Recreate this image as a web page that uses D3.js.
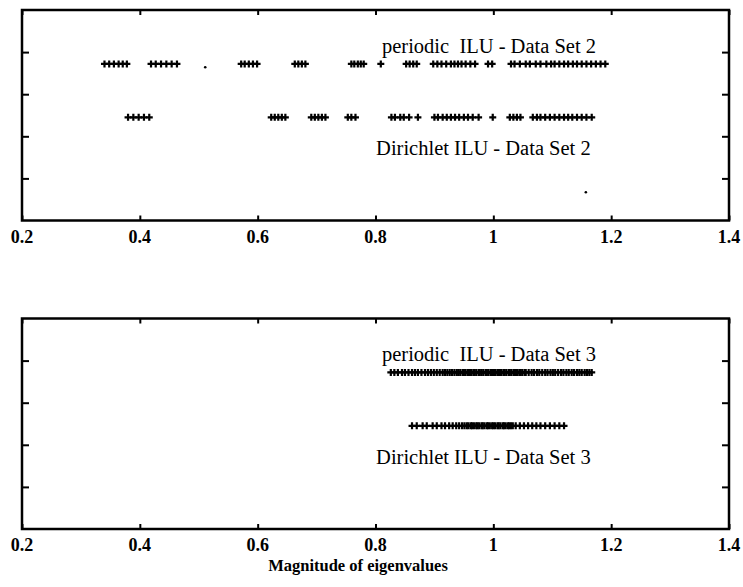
<!DOCTYPE html>
<html>
<head>
<meta charset="utf-8">
<script src="https://cdn.jsdelivr.net/npm/d3@7"></script>
<style>
  body { margin: 0; background: #fff; }
  svg { display: block; }
</style>
</head>
<body>
<div id="chart"></div>
<script>
//axis ticks
const xTicks = [0.2, 0.4, 0.6, 0.8, 1.0, 1.2, 1.4];
const xTickLabels = ['0.2', '0.4', '0.6', '0.8', '1', '1.2', '1.4'];
const yTicks = [1, 2, 3, 4];

//eigenvalue magnitudes
const periodicSet2 = [
  0.340, 0.348, 0.356, 0.364, 0.371, 0.378,
  0.419, 0.427, 0.436, 0.445, 0.454, 0.463,
  0.572, 0.578, 0.585, 0.592, 0.599,
  0.663, 0.669, 0.675, 0.681,
  0.759, 0.764, 0.770, 0.775, 0.780,
  0.809,
  0.852, 0.858, 0.864, 0.870,
  0.898, 0.905, 0.912, 0.920, 0.928, 0.934, 0.940, 0.946, 0.953, 0.961, 0.969,
  0.991, 0.998,
  1.030, 1.036, 1.045, 1.055, 1.062, 1.072, 1.080, 1.090, 1.098, 1.104, 1.112,
  1.120, 1.127, 1.135, 1.142, 1.150, 1.158, 1.166, 1.174, 1.182, 1.190
];
const dirichletSet2 = [
  0.380, 0.389, 0.398, 0.407, 0.416,
  0.623, 0.629, 0.635, 0.641, 0.647,
  0.691, 0.697, 0.703, 0.709, 0.715,
  0.753, 0.759, 0.766,
  0.827, 0.833, 0.842, 0.848, 0.857,
  0.872,
  0.900, 0.906, 0.914, 0.921, 0.928, 0.935, 0.942, 0.950, 0.957, 0.965, 0.975,
  0.999,
  1.028, 1.034, 1.040, 1.046,
  1.067, 1.074, 1.080, 1.088, 1.096, 1.104, 1.112, 1.120, 1.127, 1.134, 1.142,
  1.150, 1.158, 1.167
];
const periodicSet3 = [
  0.826, 0.832, 0.838, 0.845, 0.850, 0.856, 0.862, 0.867, 0.872, 0.878, 0.884,
  0.889, 0.894, 0.899, 0.904, 0.909, 0.914, 0.918, 0.922, 0.926, 0.930, 0.934,
  0.938, 0.941, 0.944, 0.948, 0.950, 0.953, 0.957, 0.959, 0.962, 0.966, 0.968,
  0.971, 0.975, 0.977, 0.980, 0.983, 0.987, 0.989, 0.992, 0.996, 0.998, 1.001,
  1.004, 1.008, 1.010, 1.013, 1.017, 1.019, 1.022, 1.026, 1.028, 1.031, 1.035,
  1.037, 1.040, 1.044, 1.046, 1.049, 1.053, 1.055,
  1.060, 1.065, 1.069, 1.074, 1.078, 1.083, 1.088, 1.092, 1.097, 1.101, 1.105,
  1.110, 1.115, 1.119, 1.124, 1.128, 1.133, 1.137, 1.142, 1.146, 1.150, 1.155,
  1.159, 1.163, 1.167
];
const dirichletSet3 = [
  0.862, 0.870, 0.880, 0.887, 0.897, 0.904, 0.912, 0.918, 0.925, 0.931, 0.937,
  0.942, 0.947, 0.951,
  0.955, 0.958, 0.962, 0.964, 0.967, 0.971, 0.973, 0.976, 0.980, 0.982, 0.985,
  0.989, 0.991, 0.994, 0.998, 1.000, 1.003, 1.007, 1.009, 1.012, 1.016, 1.018,
  1.021, 1.025, 1.027, 1.030, 1.033,
  1.038, 1.045, 1.052, 1.059, 1.066, 1.073, 1.080, 1.088, 1.096, 1.104, 1.112,
  1.120
];

//stray dots that are in the picture
const specksSet2 = [{x: 0.511, y: 3.64}, {x: 1.157, y: 0.67}];

const rowLabelsSet2 = ['periodic  ILU - Data Set 2', 'Dirichlet ILU - Data Set 2'];
const rowLabelsSet3 = ['periodic  ILU - Data Set 3', 'Dirichlet ILU - Data Set 3'];
const xTitle = 'Magnitude of eigenvalues';

const width = 743, height = 587;
const plotH = 210.5;
const serif = '"Liberation Serif", "Times New Roman", serif';

const svg = d3.select('#chart').append('svg')
  .attr('width', width)
  .attr('height', height);

const x = d3.scaleLinear().domain([0.2, 1.4]).range([22, 729]);
const y = d3.scaleLinear().domain([0, 5]).range([plotH, 0]);

const plus = 'M-3.5,0H3.5M0,-3.5V3.5';

function rowLabel(g, text, xv, yv) {
  g.append('text')
    .attr('x', x(xv)).attr('y', y(yv))
    .style('font-family', serif)
    .style('font-size', '20.5px')
    .style('white-space', 'pre')
    .text(text);
}

function drawPanel(top, periodic, dirichlet, labels, specks) {
  var g = svg.append('g').attr('transform', 'translate(0,' + top + ')');

  //ticks pointing inward on all four sides
  var axBottom = d3.axisBottom(x).tickValues(xTicks).tickSize(-5).tickFormat('');
  var axTop = d3.axisTop(x).tickValues(xTicks).tickSize(-5).tickFormat('');
  var axLeft = d3.axisLeft(y).tickValues(yTicks).tickSize(-7).tickFormat('');
  var axRight = d3.axisRight(y).tickValues(yTicks).tickSize(-7).tickFormat('');

  g.append('g').attr('transform', 'translate(0,' + plotH + ')').call(axBottom);
  g.append('g').call(axTop);
  g.append('g').attr('transform', 'translate(' + x(0.2) + ',0)').call(axLeft);
  g.append('g').attr('transform', 'translate(' + x(1.4) + ',0)').call(axRight);
  g.selectAll('.domain').remove();
  g.selectAll('.tick line').attr('stroke', '#000').attr('stroke-width', 2);

  g.append('rect')
    .attr('x', x(0.2)).attr('y', 0)
    .attr('width', x(1.4) - x(0.2)).attr('height', plotH)
    .attr('fill', 'none').attr('stroke', '#000').attr('stroke-width', 2.5);

  g.selectAll('.tick-label')
    .data(xTicks)
    .enter().append('text')
    .attr('class', 'tick-label')
    .attr('x', d => x(d))
    .attr('y', plotH + 22)
    .attr('text-anchor', 'middle')
    .style('font-family', serif)
    .style('font-weight', 'bold')
    .style('font-size', '18px')
    .text((d, i) => xTickLabels[i]);

  var rows = [{vals: periodic, level: 3.72}, {vals: dirichlet, level: 2.45}];
  rows.forEach(function(row) {
    g.append('g').selectAll('path')
      .data(row.vals)
      .enter().append('path')
      .attr('d', plus)
      .attr('transform', d => 'translate(' + x(d) + ',' + y(row.level) + ')')
      .attr('stroke', '#000')
      .attr('stroke-width', 2.2)
      .attr('fill', 'none');
  });

  rowLabel(g, labels[0], 0.811, 3.98);
  rowLabel(g, labels[1], 0.801, 1.55);

  g.selectAll('circle')
    .data(specks)
    .enter().append('circle')
    .attr('cx', d => x(d.x))
    .attr('cy', d => y(d.y))
    .attr('r', 1.3)
    .attr('fill', '#000');
}

drawPanel(10, periodicSet2, dirichletSet2, rowLabelsSet2, specksSet2);
drawPanel(318.5, periodicSet3, dirichletSet3, rowLabelsSet3, []);

svg.append('text')
  .attr('x', 358)
  .attr('y', 571)
  .attr('text-anchor', 'middle')
  .style('font-family', serif)
  .style('font-weight', 'bold')
  .style('font-size', '16.5px')
  .text(xTitle);
</script>
</body>
</html>
